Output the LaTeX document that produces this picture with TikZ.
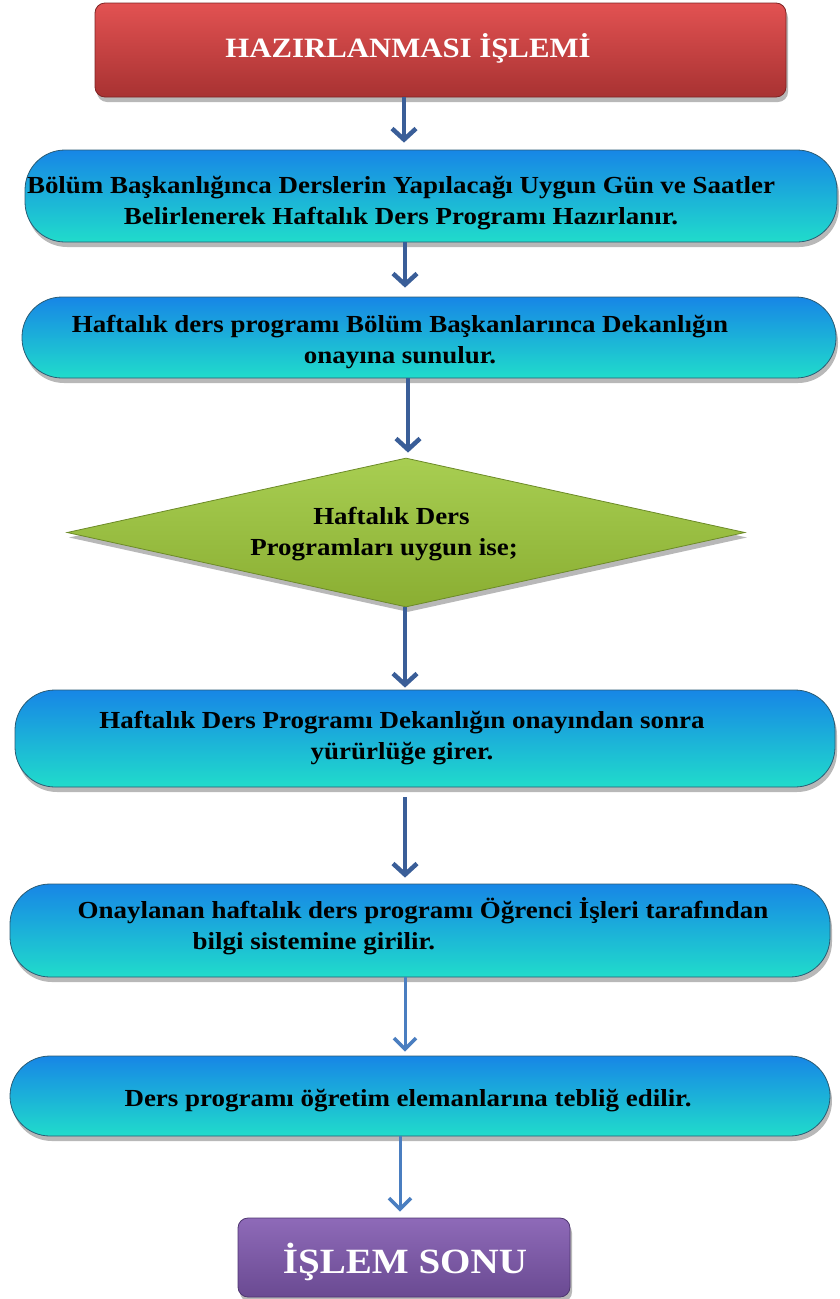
\documentclass[tikz,border=0pt]{standalone}
\usepackage{fontspec}
\setmainfont{Liberation Serif}[FakeStretch=1.1]
\usetikzlibrary{arrows.meta,shapes.geometric,shadows}

\definecolor{redTop}{HTML}{E25252}
\definecolor{redBot}{HTML}{A83232}
\definecolor{redEdge}{HTML}{7E2424}
\definecolor{pillTop}{HTML}{1786E6}
\definecolor{pillMid}{HTML}{1CBFE8}
\definecolor{pillBot}{HTML}{20DCCB}
\definecolor{pillEdge}{HTML}{2B5C74}
\definecolor{leafTop}{HTML}{A8CE52}
\definecolor{leafBot}{HTML}{8AAE32}
\definecolor{leafEdge}{HTML}{6C8A28}
\definecolor{plumTop}{HTML}{8E6AB8}
\definecolor{plumBot}{HTML}{6A4A92}
\definecolor{plumEdge}{HTML}{4E3670}
\definecolor{arrDark}{HTML}{3A5E98}
\definecolor{arrLight}{HTML}{4A7EC0}

\begin{document}
\begin{tikzpicture}[x=1pt,y=-1pt,
  softshadow/.style={drop shadow={shadow xshift=2pt,shadow yshift=-5pt,opacity=0.28,fill=black}},
  redbox/.style={rectangle,rounded corners=10pt,draw=redEdge,line width=0.8pt,
    top color=redTop,bottom color=redBot,inner sep=0pt,softshadow},
  pill/.style={rectangle,rounded corners=40pt,draw=pillEdge,line width=0.8pt,
    top color=pillTop,middle color=pillMid,bottom color=pillBot,inner sep=0pt,softshadow},
  decision/.style={diamond,draw=leafEdge,line width=0.8pt,
    top color=leafTop,bottom color=leafBot,inner sep=0pt,softshadow},
  endbox/.style={rectangle,rounded corners=10pt,draw=plumEdge,line width=0.8pt,
    top color=plumTop,bottom color=plumBot,inner sep=0pt,softshadow},
  txt/.style={font=\fontsize{24.5}{31}\selectfont\bfseries,align=center,inner sep=0pt},
  wtxt/.style={text=white,inner sep=0pt},
  arrA/.style={draw=arrDark,line width=4.5pt,-{Straight Barb[length=11pt,width=24pt,line width=4.5pt]}},
  arrB/.style={draw=arrLight,line width=3pt,-{Straight Barb[length=11pt,width=22pt,line width=3.6pt]}}
]
\useasboundingbox (0,0) rectangle (839,1299);

% boxes
\node[redbox,minimum width=691pt,minimum height=94pt] (start) at (440.5,50) {};
\node[pill,minimum width=812pt,minimum height=92pt] (b2) at (431,196) {};
\node[pill,minimum width=814pt,minimum height=81pt] (b3) at (429,337.5) {};
\node[decision,minimum width=678pt,minimum height=149pt] (d) at (406,532.5) {};
\node[pill,minimum width=820pt,minimum height=97pt] (b4) at (425,738.5) {};
\node[pill,minimum width=820pt,minimum height=93pt] (b5) at (420,930.5) {};
\node[pill,minimum width=820pt,minimum height=80pt] (b6) at (420,1096) {};
\node[endbox,minimum width=332pt,minimum height=79pt] (stop) at (404,1257.5) {};

% labels
\node[wtxt,font=\fontsize{28}{32}\selectfont\bfseries] (tstart) at (408,48) {HAZIRLANMASI İŞLEMİ};
\node[txt] (t2) at (401,203) {Bölüm Başkanlığınca Derslerin Yapılacağı Uygun Gün ve Saatler\\Belirlenerek Haftalık Ders Programı Hazırlanır.};
\node[txt] (t3) at (400,342) {Haftalık ders programı Bölüm Başkanlarınca Dekanlığın\\onayına sunulur.};
\node[txt,align=left] (td) at (384,534) {\hspace*{63pt}Haftalık Ders\\Programları uygun ise;};
\node[txt] (t4) at (402,738) {Haftalık Ders Programı Dekanlığın onayından sonra\\yürürlüğe girer.};
\node[txt,align=left] (t5) at (423,926) {Onaylanan haftalık ders programı Öğrenci İşleri tarafından\\\hspace*{115pt}bilgi sistemine girilir.};
\node[txt] (t6) at (408,1101) {Ders programı öğretim elemanlarına tebliğ edilir.};
\node[wtxt,font=\fontsize{35.5}{40}\selectfont\bfseries] (tstop) at (405,1262) {İŞLEM SONU};

% connectors
\coordinate (c1) at (404,0);
\coordinate (c3) at (408,0);
\coordinate (c4) at (405,0);
\coordinate (c7) at (400,0);
\draw[arrA,shorten >=7pt] (start.south -| c1) -- (b2.north -| c1);
\draw[arrA,shorten >=9pt] (b2.south -| c4) -- (b3.north -| c4);
\draw[arrA,shorten >=5pt] (b3.south -| c3) -- (d.north -| c3);
\draw[arrA,shorten >=2pt] (d.south -| c4) -- (b4.north -| c4);
\draw[arrA,shorten <=10pt,shorten >=6pt] (b4.south -| c4) -- (b5.north -| c4);
\draw[arrB,shorten >=4pt] (b5.south -| c4) -- (b6.north -| c4);
\draw[arrB,shorten >=6pt] (b6.south -| c7) -- (stop.north -| c7);
\end{tikzpicture}
\end{document}
